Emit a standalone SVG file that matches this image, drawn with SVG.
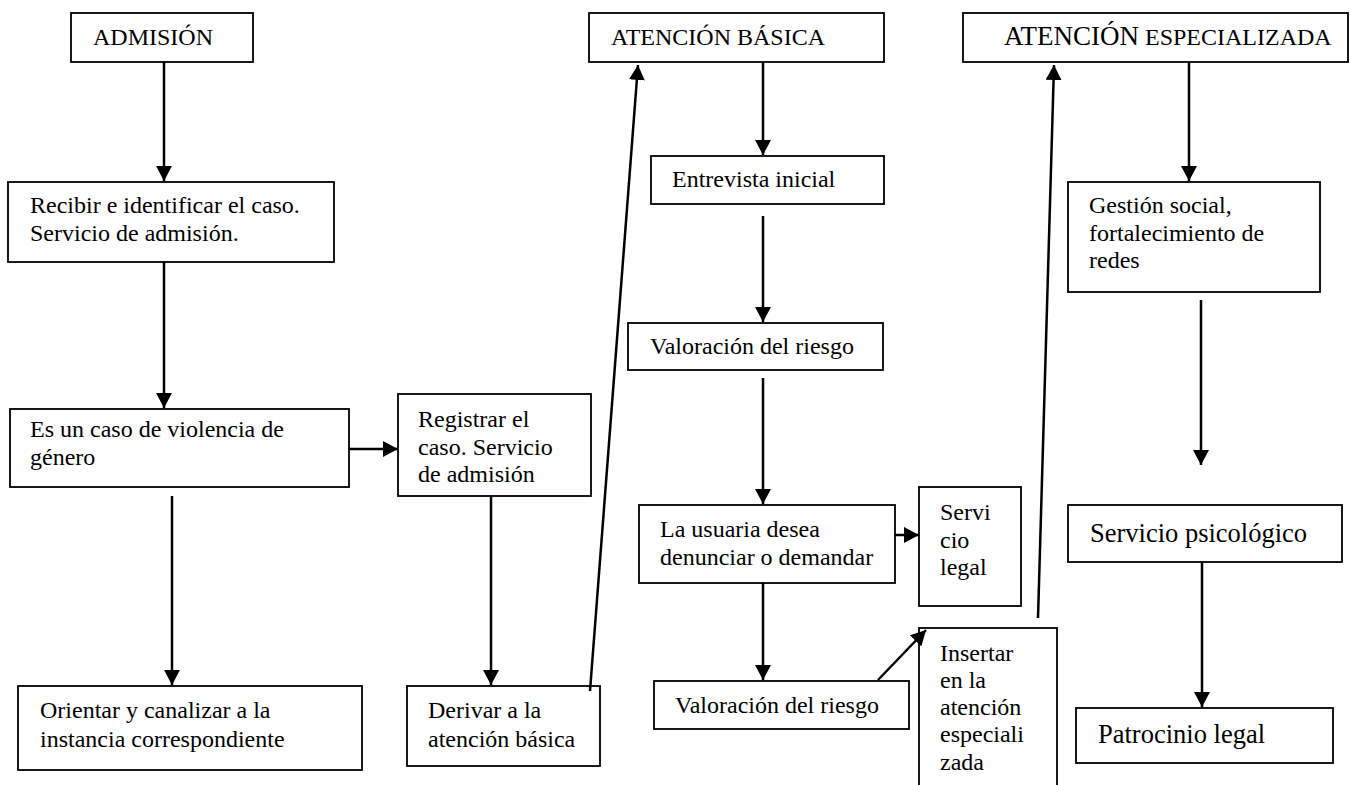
<svg xmlns="http://www.w3.org/2000/svg" width="1350" height="785" viewBox="0 0 1350 785">
<style>
.box{fill:#fff;stroke:#000;stroke-width:1.8}
.t{font-family:"Liberation Serif","Times New Roman",serif;font-size:24px;fill:#000}
.big{font-size:26.5px}
.c{stroke:#000;stroke-width:2.5;fill:none;marker-end:url(#ah)}
</style>
<defs>
<marker id="ah" viewBox="0 0 15 16" refX="15" refY="8" markerWidth="15" markerHeight="16" markerUnits="userSpaceOnUse" orient="auto">
<path d="M0,0 L15,8 L0,16 z" fill="#000"/>
</marker>
</defs>
<rect width="1350" height="785" fill="#fff"/>

<g id="admision"><rect class="box" x="71" y="13" width="182" height="49"/><text class="t" x="93" y="45">ADMISIÓN</text></g>
<g id="atencion-basica"><rect class="box" x="589" y="13" width="295" height="49"/><text class="t" x="611" y="45">ATENCIÓN BÁSICA</text></g>
<g id="atencion-especializada"><rect class="box" x="963" y="13" width="385" height="49"/><text class="t" x="1004" y="45"><tspan style="font-size:27px">ATENCIÓN</tspan><tspan> ESPECIALIZADA</tspan></text></g>

<g id="recibir"><rect class="box" x="8" y="182" width="326" height="80"/><text class="t"><tspan x="30" y="213">Recibir e identificar el caso.</tspan><tspan x="30" y="241">Servicio de admisión.</tspan></text></g>
<g id="es-caso"><rect class="box" x="10" y="409" width="339" height="78"/><text class="t"><tspan x="30" y="437">Es un caso de violencia de</tspan><tspan x="30" y="465">género</tspan></text></g>
<g id="registrar"><rect class="box" x="398" y="394" width="193" height="102"/><text class="t"><tspan x="418" y="427">Registrar el</tspan><tspan x="418" y="455">caso. Servicio</tspan><tspan x="418" y="482">de admisión</tspan></text></g>
<g id="orientar"><rect class="box" x="18" y="686" width="344" height="84"/><text class="t"><tspan x="40" y="718">Orientar y canalizar a la</tspan><tspan x="40" y="747">instancia correspondiente</tspan></text></g>
<g id="derivar"><rect class="box" x="407" y="686" width="193" height="80"/><text class="t"><tspan x="428" y="718">Derivar a la</tspan><tspan x="428" y="747">atención básica</tspan></text></g>

<g id="entrevista"><rect class="box" x="651" y="156" width="233" height="48"/><text class="t" x="672" y="187">Entrevista inicial</text></g>
<g id="valoracion1"><rect class="box" x="628" y="323" width="255" height="47"/><text class="t" x="650" y="354">Valoración del riesgo</text></g>
<g id="usuaria"><rect class="box" x="639" y="505" width="256" height="78"/><text class="t"><tspan x="660" y="537">La usuaria desea</tspan><tspan x="660" y="565">denunciar o demandar</tspan></text></g>
<g id="servicio-legal"><rect class="box" x="919" y="487" width="102" height="119"/><text class="t"><tspan x="940" y="520">Servi</tspan><tspan x="940" y="548">cio</tspan><tspan x="940" y="575">legal</tspan></text></g>
<g id="valoracion2"><rect class="box" x="654" y="681" width="255" height="48"/><text class="t" x="675" y="713">Valoración del riesgo</text></g>
<g id="insertar"><rect class="box" x="919" y="628" width="138" height="180"/><text class="t"><tspan x="940" y="661">Insertar</tspan><tspan x="940" y="688">en la</tspan><tspan x="940" y="715">atención</tspan><tspan x="940" y="742">especiali</tspan><tspan x="940" y="770">zada</tspan></text></g>

<g id="gestion"><rect class="box" x="1068" y="182" width="252" height="110"/><text class="t"><tspan x="1089" y="213">Gestión social,</tspan><tspan x="1089" y="241">fortalecimiento de</tspan><tspan x="1089" y="268">redes</tspan></text></g>
<g id="psicologico"><rect class="box" x="1068" y="505" width="274" height="57"/><text class="t big" x="1090" y="542">Servicio psicológico</text></g>
<g id="patrocinio"><rect class="box" x="1076" y="708" width="257" height="55"/><text class="t big" x="1098" y="743">Patrocinio legal</text></g>

<g id="connectors">
<line class="c" x1="164" y1="62" x2="164" y2="181"/>
<line class="c" x1="164" y1="262" x2="164" y2="408"/>
<line class="c" x1="349" y1="449" x2="398" y2="449"/>
<line class="c" x1="172" y1="496" x2="172" y2="685"/>
<line class="c" x1="491" y1="496" x2="491" y2="685"/>
<line class="c" x1="590" y1="691" x2="638" y2="65"/>
<line class="c" x1="763" y1="62" x2="763" y2="155"/>
<line class="c" x1="763" y1="216" x2="763" y2="322"/>
<line class="c" x1="763" y1="378" x2="763" y2="504"/>
<line class="c" x1="895" y1="535" x2="919" y2="535"/>
<line class="c" x1="763" y1="583" x2="763" y2="680"/>
<line class="c" x1="878" y1="680" x2="926" y2="630"/>
<line class="c" x1="1038" y1="618" x2="1054" y2="65"/>
<line class="c" x1="1189" y1="62" x2="1189" y2="181"/>
<line class="c" x1="1201" y1="300" x2="1201" y2="465"/>
<line class="c" x1="1202" y1="562" x2="1202" y2="707"/>
</g>
</svg>
